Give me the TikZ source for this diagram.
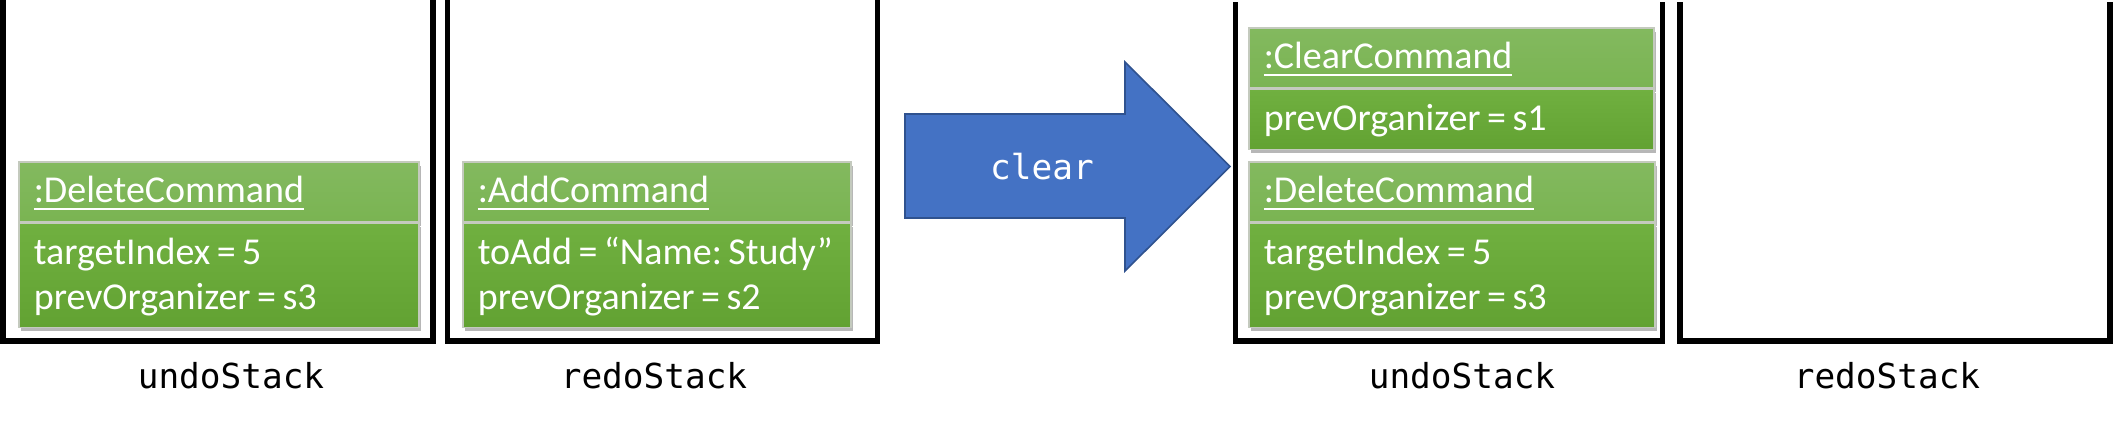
\documentclass[tikz,border=0pt]{standalone}
\usepackage{fontspec}
\setmainfont{Carlito}
\setmonofont{DejaVu Sans Mono}
\usetikzlibrary{positioning,shadows}
\usepackage{xcolor}
\newcommand{\YBottom}{341}
\newcommand{\YLabel}{388}
\newcommand{\TightSpaces}{\frenchspacing\spaceskip=0.17em\relax}
\definecolor{TitleTop}{RGB}{131,185,95}
\definecolor{TitleBottom}{RGB}{122,180,82}
\definecolor{BodyTop}{RGB}{112,176,64}
\definecolor{BodyBottom}{RGB}{98,162,50}
\definecolor{BoxEdge}{RGB}{196,202,190}
\definecolor{ArrowFill}{RGB}{68,114,196}
\definecolor{ArrowEdge}{RGB}{47,82,143}
\newcommand{\PlaceCommand}[8]{%
  % #1 prefix, #2 x, #3 y, #4 width, #5 text width, #6 title, #7 body, #8 body depth
  \node[cmdtitle,minimum width=#4,text width=#5,anchor=north west] (#1title) at (#2,#3) {\underline{#6}};
  \node[cmdbody,minimum width=#4,text width=#5,text depth=#8,below=0pt of #1title] (#1body) {#7};
}

\begin{document}
\begin{tikzpicture}[
  x=0.25pt,y=-0.25pt,
  stackline/.style={line width=1.375pt,line join=miter,black},
  cmdfont/.style={font=\fontsize{9.5pt}{11.25pt}\selectfont,text=white,execute at begin node=\TightSpaces},
  cmdtitle/.style={cmdfont,draw=BoxEdge,line width=0.4pt,top color=TitleTop,bottom color=TitleBottom,
    inner xsep=3.75pt,inner ysep=0pt,text height=10.25pt,text depth=4.75pt,align=left,
    drop shadow={shadow xshift=0.5pt,shadow yshift=-1pt,opacity=0.4,fill=black!70}},
  cmdbody/.style={cmdfont,draw=BoxEdge,line width=0.4pt,top color=BodyTop,bottom color=BodyBottom,
    inner xsep=3.75pt,inner ysep=0pt,text height=10.25pt,align=left,
    drop shadow={shadow xshift=0.5pt,shadow yshift=-1pt,opacity=0.4,fill=black!70}},
  stacklabel/.style={font=\ttfamily\fontsize{8.6pt}{10pt}\selectfont,anchor=base},
  clearshape/.style={fill=ArrowFill,draw=ArrowEdge,line width=0.4pt,line join=miter}
]
\useasboundingbox (0,0) rectangle (2113,422);

% Stacks (open at the top)
\foreach \l/\r/\t in {3/433/0,447.5/877.5/0,1235.5/1662.5/2,1680/2110/2}{%
  \draw[stackline] (\l,\t) -- (\l,\YBottom) -- (\r,\YBottom) -- (\r,\t);
}

% Before: undoStack and redoStack
\PlaceCommand{delA}{18}{161}{100pt}{92.5pt}{:DeleteCommand}{\mbox{targetIndex = 5}\\\mbox{prevOrganizer = s3}}{15.75pt}
\PlaceCommand{add}{462}{161}{97pt}{89.5pt}{:AddCommand}{\mbox{toAdd = “Name: Study”}\\\mbox{prevOrganizer = s2}}{15.75pt}

% After: undoStack and redoStack
\PlaceCommand{clr}{1248}{27}{101.25pt}{93.75pt}{:ClearCommand}{\mbox{prevOrganizer = s1}}{4.75pt}
\PlaceCommand{delB}{1248}{161}{101.5pt}{94pt}{:DeleteCommand}{\mbox{targetIndex = 5}\\\mbox{prevOrganizer = s3}}{15.75pt}

% Block arrow
\draw[clearshape] (905,114) -- (1125,114) -- (1125,62) -- (1230,166.5) -- (1125,271) -- (1125,218) -- (905,218) -- cycle;
\node[stacklabel,text=white] (clearlabel) at (1042,179) {clear};

% Stack labels
\node[stacklabel] (undoA) at (231,\YLabel) {undoStack};
\node[stacklabel] (redoA) at (654,\YLabel) {redoStack};
\node[stacklabel] (undoB) at (1462,\YLabel) {undoStack};
\node[stacklabel] (redoB) at (1887,\YLabel) {redoStack};

\end{tikzpicture}
\end{document}
